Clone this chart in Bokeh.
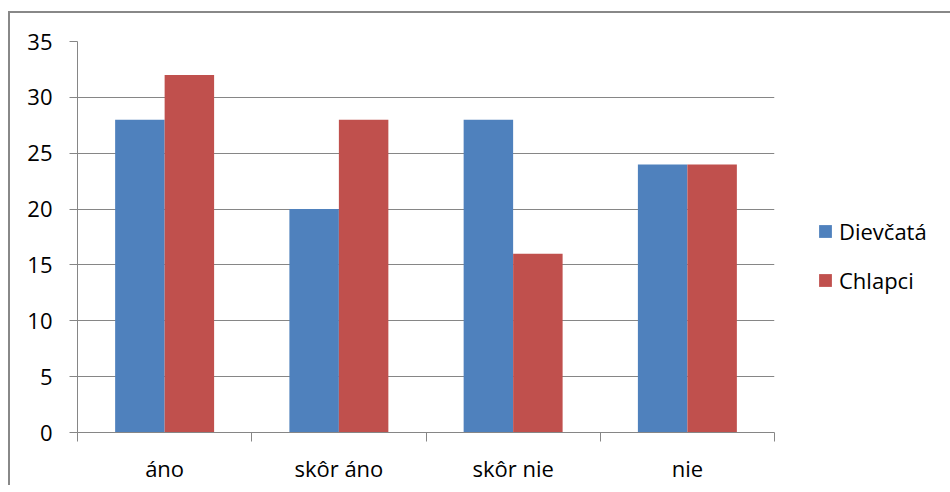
from bokeh.plotting import figure
from bokeh.models import ColumnDataSource, FixedTicker, Legend, LegendItem, Range1d
from bokeh.transform import dodge
from bokeh.embed import file_html
from bokeh.resources import INLINE

categories = ["áno", "skôr áno", "skôr nie", "nie"]
dievcata = [28, 20, 28, 24]
chlapci = [32, 28, 16, 24]
y_ticks = [0, 5, 10, 15, 20, 25, 30, 35]

FONT = "Open Sans"
FS = "22px"
GRID = "#868686"

pos = [i + 0.5 for i in range(len(categories))]
src = ColumnDataSource(dict(x=pos, d=dievcata, c=chlapci))

p = figure(
    output_backend="svg", toolbar_location=None,
    frame_width=697, frame_height=391,
    x_range=Range1d(0, len(categories)), y_range=Range1d(0, 35),
    min_border_left=67, min_border_top=28, min_border_right=150, min_border_bottom=40,
)
p.margin = (11, 0, 0, 8)
p.styles = {"border-left": "2px solid #888888", "border-top": "2px solid #888888",
            "border-right": "0px", "border-bottom": "0px"}
p.outline_line_color = None
p.background_fill_color = "white"
p.border_fill_color = "white"

bw = 0.284
r1 = p.vbar(x=dodge("x", -bw / 2), top="d", width=bw, source=src,
            fill_color="#4F81BD", line_color=None)
r2 = p.vbar(x=dodge("x", bw / 2), top="c", width=bw, source=src,
            fill_color="#C0504D", line_color=None)

# x axis
p.xaxis.ticker = FixedTicker(ticks=pos, minor_ticks=list(range(len(categories) + 1)))
p.xaxis.major_label_overrides = {v: c for v, c in zip(pos, categories)}
p.xaxis.major_tick_out = 0
p.xaxis.major_tick_in = 0
p.xaxis.minor_tick_out = 9
p.xaxis.minor_tick_in = 0
p.xaxis.minor_tick_line_color = GRID
p.xaxis.axis_line_color = GRID
p.xaxis.major_label_standoff = 11
p.xaxis.major_label_text_font = FONT
p.xaxis.major_label_text_font_size = FS
p.xaxis.major_label_text_color = "black"
p.xgrid.visible = False

# y axis
p.yaxis.ticker = FixedTicker(ticks=y_ticks)
p.yaxis.major_tick_out = 8
p.yaxis.major_tick_in = 0
p.yaxis.minor_tick_line_color = None
p.yaxis.major_tick_line_color = GRID
p.yaxis.axis_line_color = GRID
p.yaxis.major_label_standoff = 17
p.yaxis.major_label_text_font = FONT
p.yaxis.major_label_text_font_size = FS
p.yaxis.major_label_text_color = "black"
p.ygrid.grid_line_color = GRID
p.ygrid.grid_line_width = 1

legend = Legend(
    items=[LegendItem(label="Dievčatá", renderers=[r1]),
           LegendItem(label="Chlapci", renderers=[r2])],
    location=(43, 137),
    glyph_width=16, glyph_height=16, label_standoff=6,
    spacing=19, padding=0, margin=0,
    label_text_font=FONT, label_text_font_size=FS, label_text_color="black",
    border_line_color=None, background_fill_alpha=0,
)
p.add_layout(legend, "right")

open("out.html", "w").write(file_html(p, INLINE))
